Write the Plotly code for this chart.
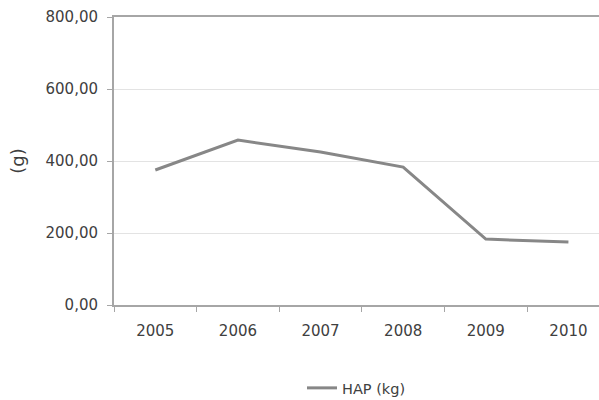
import plotly.graph_objects as go

# Dados
anos = ["2005", "2006", "2007", "2008", "2009", "2010"]
hap_kg = [375, 458, 425, 383, 183, 175]
nome_serie = "HAP (kg)"
y_ticks = [0, 200, 400, 600, 800]

COR_LINHA = "#878787"
COR_EIXO = "#A6A6A6"
COR_GRADE = "#E3E3E3"
COR_TEXTO = "#404040"

fig = go.Figure()
fig.add_trace(go.Scatter(
    x=anos, y=hap_kg,
    mode="lines",
    name=nome_serie,
    line=dict(color=COR_LINHA, width=3),
    showlegend=True,
))

fig.update_layout(
    width=599, height=400,
    margin=dict(l=114, r=0, t=17, b=95, autoexpand=False),
    paper_bgcolor="white",
    plot_bgcolor="white",
    separators=", ",
    font=dict(family="DejaVu Sans, Verdana, sans-serif", size=15, color=COR_TEXTO),
    showlegend=True,
    legend=dict(
        orientation="h",
        x=0.5, xanchor="center",
        y=-0.288, yanchor="middle",
        font=dict(size=14.5),
        itemwidth=30,
    ),
    xaxis=dict(
        type="category",
        range=[-0.5, 5.37],
        automargin=False,
        tickson="boundaries",
        ticks="outside",
        ticklen=5,
        tickcolor=COR_EIXO,
        showline=True,
        linecolor=COR_EIXO,
        linewidth=2,
        mirror=True,
        showgrid=False,
        ticklabelstandoff=11,
    ),
    yaxis=dict(
        range=[0, 800],
        automargin=False,
        tickvals=y_ticks,
        tickformat=".2f",
        ticks="outside",
        ticklen=5,
        tickcolor=COR_EIXO,
        showline=True,
        linecolor=COR_EIXO,
        linewidth=2,
        showgrid=True,
        gridcolor=COR_GRADE,
        gridwidth=1,
        zeroline=False,
        title=dict(text="(g)", standoff=16),
        ticklabelstandoff=6,
    ),
)

# sem a margem padrão do <body>, a figura ocupa a janela inteira
fig.write_html(
    "out.html",
    config={"displayModeBar": False},
    post_script="document.body.style.margin='0';",
)
